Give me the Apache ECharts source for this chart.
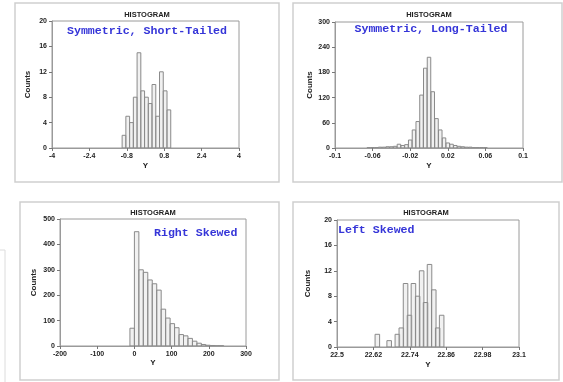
<!DOCTYPE html>
<html><head><meta charset="utf-8">
<script src="https://cdn.jsdelivr.net/npm/echarts@6/dist/echarts.min.js"></script>
<style>html,body{margin:0;padding:0;background:#fff}#c{width:563px;height:382px}</style>
</head><body><div id="c"></div>
<script>
// ---- data ----
const panelTitle = 'HISTOGRAM';
const panelLabels = ['Symmetric, Short-Tailed', 'Symmetric, Long-Tailed', 'Right Skewed', 'Left Skewed'];
const xAxisName = 'Y';
const yAxisName = 'Counts';

// Panel 1: symmetric, short-tailed
const p1Centers = [-0.92, -0.76, -0.6, -0.44, -0.28, -0.12, 0.04, 0.2, 0.36, 0.52, 0.68, 0.84, 1.0];
const p1Counts  = [2, 5, 4, 8, 15, 9, 8, 7, 10, 5, 12, 9, 6];
const p1BinWidth = 0.16;
const p1XTicks = [-4, -2.4, -0.8, 0.8, 2.4, 4];
const p1YTicks = [0, 4, 8, 12, 16, 20];

// Panel 2: symmetric, long-tailed
const p2Centers = [-0.064, -0.060, -0.056, -0.052, -0.048, -0.044, -0.040, -0.036, -0.032, -0.028, -0.024, -0.020, -0.016, -0.012, -0.008, -0.004, 0.000, 0.004, 0.008, 0.012, 0.016, 0.020, 0.024, 0.028, 0.032, 0.036, 0.040, 0.044, 0.048, 0.052, 0.056, 0.060];
const p2Counts  = [1, 1, 1, 2, 2, 3, 3, 4, 9, 6, 8, 19, 43, 63, 126, 190, 216, 134, 70, 43, 24, 12, 9, 6, 4, 3, 2, 2, 1, 1, 1, 1];
const p2BinWidth = 0.0037;
const p2XTicks = [-0.1, -0.06, -0.02, 0.02, 0.06, 0.1];
const p2YTicks = [0, 60, 120, 180, 240, 300];

// Panel 3: right skewed
const p3Centers = [-6, 6, 18, 30, 42, 54, 66, 78, 90, 102, 114, 126, 138, 150, 162, 174, 186, 198, 210, 222, 234];
const p3Counts  = [70, 450, 300, 290, 260, 245, 220, 145, 110, 88, 72, 45, 40, 30, 19, 11, 6, 3, 2, 1, 1];
const p3BinWidth = 12;
const p3XTicks = [-200, -100, 0, 100, 200, 300];
const p3YTicks = [0, 100, 200, 300, 400, 500];

// Panel 4: left skewed
const p4Centers = [22.633, 22.672, 22.699, 22.712, 22.726, 22.739, 22.752, 22.766, 22.779, 22.792, 22.805, 22.819, 22.832, 22.845];
const p4Counts  = [2, 1, 2, 3, 10, 5, 10, 8, 12, 7, 13, 9, 3, 5];
const p4BinWidth = 0.015;
const p4XTicks = [22.5, 22.62, 22.74, 22.86, 22.98, 23.1];
const p4YTicks = [0, 4, 8, 12, 16, 20];

// ---- chart ----
const chart = echarts.init(document.getElementById('c'), null, {renderer: 'canvas'});

const panels = [
  {centers: p1Centers, counts: p1Counts, bw: p1BinWidth, xt: p1XTicks, yt: p1YTicks,
   grid: {left: 52, top: 21, width: 187, height: 127}, yGap: 20, xGap: 14,
   frame: {x: 15, y: 3, w: 264, h: 179}, title: {x: 147, y: 15},
   label: {x: 147, y: 31, align: 'center'}},
  {centers: p2Centers, counts: p2Counts, bw: p2BinWidth, xt: p2XTicks, yt: p2YTicks,
   grid: {left: 335, top: 22, width: 188, height: 126}, yGap: 21, xGap: 14,
   frame: {x: 293, y: 3, w: 269, h: 179}, title: {x: 429, y: 15},
   label: {x: 431, y: 29.5, align: 'center'}},
  {centers: p3Centers, counts: p3Counts, bw: p3BinWidth, xt: p3XTicks, yt: p3YTicks,
   grid: {left: 60, top: 219, width: 186, height: 127}, yGap: 22, xGap: 13,
   frame: {x: 20, y: 202, w: 259, h: 178}, title: {x: 153, y: 213},
   label: {x: 154, y: 233, align: 'left'}},
  {centers: p4Centers, counts: p4Counts, bw: p4BinWidth, xt: p4XTicks, yt: p4YTicks,
   grid: {left: 337, top: 220, width: 182, height: 127}, yGap: 25, xGap: 14,
   frame: {x: 293, y: 202, w: 266, h: 178}, title: {x: 426, y: 213},
   label: {x: 338, y: 230, align: 'left'}}
];

const tickFont = {fontFamily: 'Liberation Sans, Arial, sans-serif', fontSize: 7, fontWeight: 'bold', color: '#222'};

const grids = [], xAxes = [], yAxes = [], series = [], graphics = [];

// faint box at far left edge
graphics.push({type: 'rect', shape: {x: -4, y: 250, width: 9, height: 140},
  style: {fill: 'none', stroke: '#dcdcdc', lineWidth: 1}, silent: true});

panels.forEach((p, i) => {
  const xmin = p.xt[0], xmax = p.xt[p.xt.length - 1];
  const ymin = p.yt[0], ymax = p.yt[p.yt.length - 1];
  grids.push(Object.assign({show: true, borderColor: '#9a9a9a', borderWidth: 1, backgroundColor: 'transparent', containLabel: false}, p.grid));
  xAxes.push({
    type: 'value', gridIndex: i, min: xmin, max: xmax,
    name: xAxisName, nameLocation: 'middle', nameGap: p.xGap,
    nameTextStyle: {fontFamily: 'Liberation Sans, Arial, sans-serif', fontSize: 8, fontWeight: 'bold', color: '#222'},
    axisLine: {show: true, onZero: false, lineStyle: {color: '#9a9a9a', width: 1}},
    axisTick: {show: true, length: 3, inside: false, customValues: p.xt, lineStyle: {color: '#777'}},
    axisLabel: Object.assign({margin: 5, customValues: p.xt, formatter: v => String(v)}, tickFont),
    splitLine: {show: false}
  });
  yAxes.push({
    type: 'value', gridIndex: i, min: ymin, max: ymax,
    name: yAxisName, nameLocation: 'middle', nameGap: p.yGap, nameRotate: 90,
    nameTextStyle: {fontFamily: 'Liberation Sans, Arial, sans-serif', fontSize: 8, fontWeight: 'bold', color: '#222'},
    axisLine: {show: true, onZero: false, lineStyle: {color: '#9a9a9a', width: 1}},
    axisTick: {show: true, length: 3, inside: false, customValues: p.yt, lineStyle: {color: '#777'}},
    axisLabel: Object.assign({margin: 5, customValues: p.yt}, tickFont),
    splitLine: {show: false}
  });
  const bw = p.bw;
  series.push({
    type: 'custom', xAxisIndex: i, yAxisIndex: i, clip: true,
    data: p.centers.map((c, k) => [c, p.counts[k]]),
    renderItem: function (params, api) {
      const x = api.value(0), y = api.value(1);
      const a = api.coord([x - bw / 2, y]);
      const b = api.coord([x + bw / 2, 0]);
      return {type: 'rect',
        shape: {x: a[0], y: a[1], width: b[0] - a[0], height: b[1] - a[1]},
        style: {fill: 'rgba(215,215,215,0.35)', stroke: '#8a8a8a', lineWidth: 1}};
    }
  });
  graphics.push({type: 'rect', shape: {x: p.frame.x, y: p.frame.y, width: p.frame.w, height: p.frame.h},
    style: {fill: 'none', stroke: '#cfcfcf', lineWidth: 1.5}, silent: true});
  graphics.push({type: 'text', x: p.title.x, y: p.title.y,
    style: {text: panelTitle, align: 'center', verticalAlign: 'middle',
      font: 'bold 7.5px "Liberation Sans", Arial, sans-serif', fill: '#222'}});
  graphics.push({type: 'text', x: p.label.x, y: p.label.y,
    style: {text: panelLabels[i], align: p.label.align, verticalAlign: 'middle',
      font: 'bold 11.6px "Liberation Mono", "Courier New", monospace', fill: '#3535d8'}});
});

chart.setOption({
  animation: false,
  backgroundColor: '#fff',
  grid: grids, xAxis: xAxes, yAxis: yAxes, series: series,
  graphic: {elements: graphics}
});
</script></body></html>
